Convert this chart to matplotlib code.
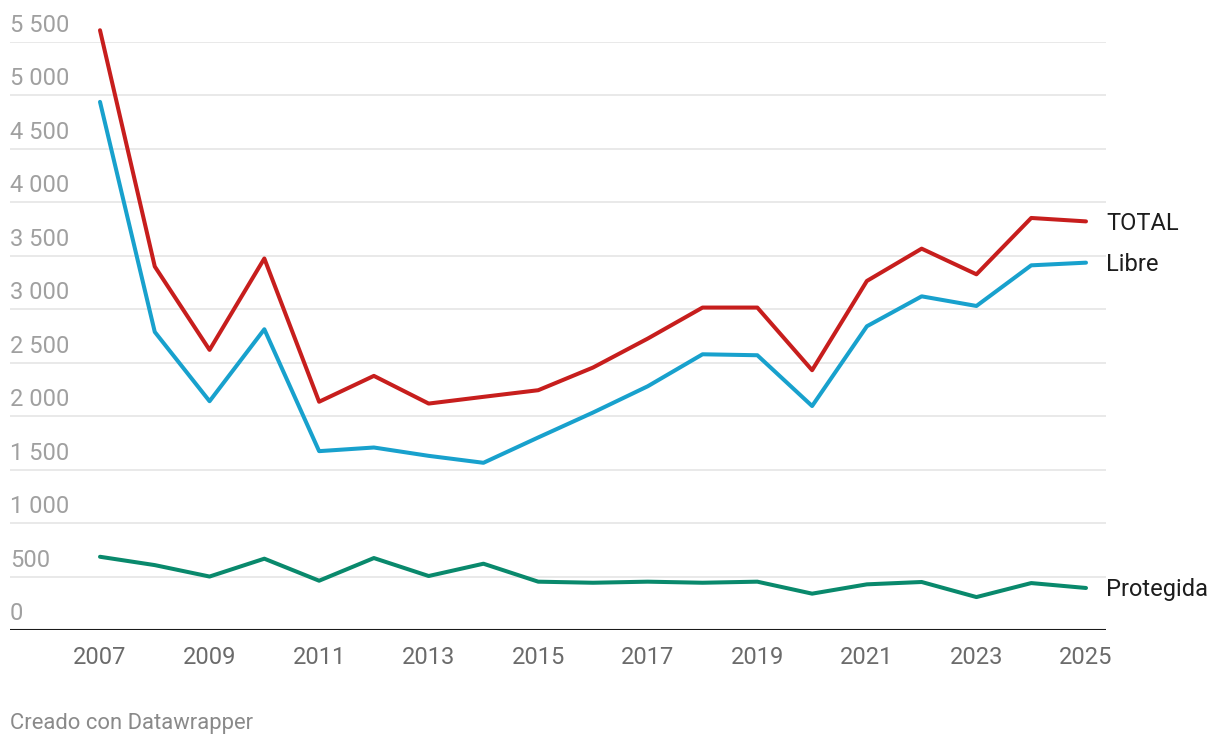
import matplotlib
matplotlib.use("Agg")
import matplotlib.pyplot as plt
import matplotlib.transforms as mtransforms

years = list(range(2007, 2026))
total = [5610, 3400, 2620, 3475, 2135, 2377, 2118, 2181, 2243, 2455, 2726,
         3016, 3016, 2430, 3265, 3567, 3327, 3854, 3822]
libre = [4940, 2788, 2140, 2813, 1673, 1707, 1629, 1564, 1801, 2034, 2280,
         2579, 2570, 2095, 2841, 3121, 3031, 3411, 3436]
protegida = [685, 607, 500, 667, 461, 673, 505, 620, 452, 442, 452,
             442, 452, 340, 427, 449, 308, 439, 393]

series = [("TOTAL", total, "#c71e1d"),
          ("Libre", libre, "#18a1cd"),
          ("Protegida", protegida, "#09896c")]

yticks = [0, 500, 1000, 1500, 2000, 2500, 3000, 3500, 4000, 4500, 5000, 5500]
ytick_labels = ["0", "500", "1 000", "1 500", "2 000", "2 500", "3 000",
                "3 500", "4 000", "4 500", "5 000", "5 500"]
xticks = [2007, 2009, 2011, 2013, 2015, 2017, 2019, 2021, 2023, 2025]
xtick_labels = [str(x) for x in xticks]

plt.rcParams['font.family'] = ['Roboto', 'DejaVu Sans']

W, H = 1220, 746
fig = plt.figure(figsize=(W / 100, H / 100), dpi=100)
left_px, right_px, top_px, bottom_px = 10, 1106, 42, 630
ax = fig.add_axes([left_px / W, 1 - bottom_px / H,
                   (right_px - left_px) / W, (bottom_px - top_px) / H])

px_per_year = (1086 - 100) / 18
ax.set_xlim(2007 - 90 / px_per_year, 2025 + 20 / px_per_year)
ax.set_ylim(0, 5500)
ax.axis("off")

# gridlines
for v in yticks[1:]:
    ax.axhline(v, color="#e3e3e3", lw=1.1, zorder=1)
ax.axhline(0, color="#1a1a1a", lw=1.5, zorder=4)

def px_offset(dx, dy):
    return mtransforms.ScaledTranslation(dx / 100, dy / 100, fig.dpi_scale_trans)

ylab_tr = mtransforms.blended_transform_factory(ax.transAxes, ax.transData) + px_offset(0, 10)
for v, lab in zip(yticks, ytick_labels):
    ax.text(0, v, lab, transform=ylab_tr, ha="left", va="baseline",
            fontsize=17, color="#a0a0a0")

xlab_tr = mtransforms.blended_transform_factory(ax.transData, ax.transAxes) + px_offset(0, -34)
for x, lab in zip(xticks, xtick_labels):
    ax.text(x, 0, lab, transform=xlab_tr, ha="center", va="baseline",
            fontsize=17, color="#6b6b6b")

lab_tr = mtransforms.blended_transform_factory(ax.transAxes, ax.transData) + px_offset(0, -8.5)
for name, vals, col in series:
    ax.plot(years, vals, color=col, lw=2.9, solid_capstyle="round",
            solid_joinstyle="round", zorder=3, clip_on=False)
    ax.text(1.0, vals[-1], name, transform=lab_tr, ha="left", va="baseline",
            fontsize=17, color="#1d1d1d")

fig.text(10 / W, 1 - 729 / H, "Creado con Datawrapper", ha="left", va="baseline",
         fontsize=15.8, color="#8a8a8a")

fig.savefig("out.png", dpi=100, facecolor="white")
